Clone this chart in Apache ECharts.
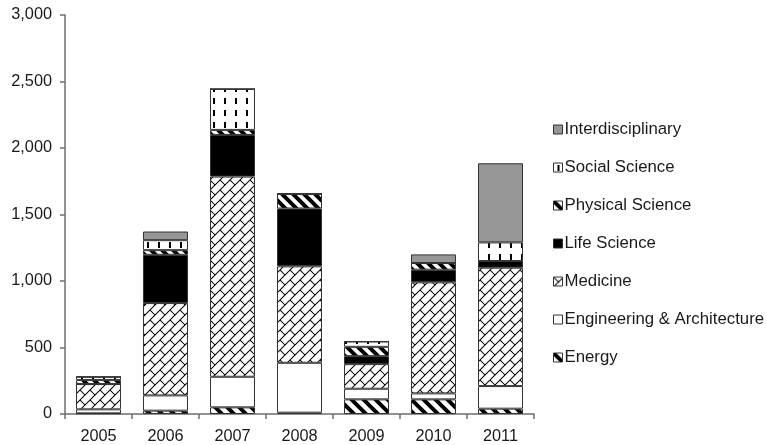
<!DOCTYPE html>
<html>
<head>
<meta charset="utf-8">
<script src="https://cdn.jsdelivr.net/npm/echarts@6/dist/echarts.min.js"></script>
<style>
  html, body { margin: 0; padding: 0; background: #fff; }
  #chart { width: 767px; height: 445px; }
</style>
</head>
<body>
<div id="chart"></div>
<script>
// Funding by field, stacked per year (bottom to top: Energy ... Interdisciplinary)
const years = ['2005', '2006', '2007', '2008', '2009', '2010', '2011'];
const energy           = [5,   25,   50,   10,  110, 110,  40];
const engineering      = [30,  115,  230,  375, 80,  45,   170];
const medicine         = [190, 694,  1505, 725, 185, 835,  890];
const lifeScience      = [0,   363,  313,  435, 60,  95,   50];
const physicalScience  = [30,  35,   38,   110, 70,  50,   0];
const socialScience    = [25,  75,   308,  0,   40,  0,    140];
const interdisciplinary= [0,   65,   0,    0,   0,   65,   595];
const yTicks = { min: 0, max: 3000, step: 500 };

// ---- fill patterns drawn into small tiles ----
function tile(w, h, draw) {
  const c = document.createElement('canvas');
  c.width = w; c.height = h;
  const ctx = c.getContext('2d');
  ctx.fillStyle = '#fff';
  ctx.fillRect(0, 0, w, h);
  draw(ctx, w, h);
  return { image: c, repeat: 'repeat' };
}

// wide "\" stripes
function stripes(period, thick) {
  return tile(period, period, (ctx, w, h) => {
    ctx.strokeStyle = '#000';
    ctx.lineWidth = thick;
    ctx.beginPath();
    for (let k = -2; k <= 2; k++) {
      ctx.moveTo(k * w - w, -h);
      ctx.lineTo(k * w + 2 * w, 2 * h);
    }
    ctx.stroke();
  });
}

// diagonal brick (bricks run along "/")
function bricks() {
  const T = 10;
  const hgt = T / Math.SQRT2;
  return tile(T, T, (ctx) => {
    ctx.save();
    ctx.rotate(-Math.PI / 4);
    ctx.strokeStyle = '#000';
    ctx.lineWidth = 1;
    ctx.beginPath();
    for (let r = -8; r <= 8; r++) {
      const y = r * hgt;
      ctx.moveTo(-80, y); ctx.lineTo(80, y);
      const off = (Math.abs(r) % 2 === 0) ? 0 : hgt;
      for (let c = -8; c <= 8; c++) {
        const x = c * 2 * hgt + off;
        ctx.moveTo(x, y); ctx.lineTo(x, y + hgt);
      }
    }
    ctx.stroke();
    ctx.restore();
  });
}

// short vertical dashes
function dashes() {
  return tile(11, 12, (ctx) => {
    ctx.fillStyle = '#000';
    ctx.fillRect(4, 2, 2, 6);
  });
}

const fills = {
  'Energy': stripes(12, 4),
  'Engineering & Architecture': '#ffffff',
  'Medicine': bricks(),
  'Life Science': '#000000',
  'Physical Science': stripes(11, 4),
  'Social Science': dashes(),
  'Interdisciplinary': '#969696'
};

const seriesData = [
  ['Energy', energy],
  ['Engineering & Architecture', engineering],
  ['Medicine', medicine],
  ['Life Science', lifeScience],
  ['Physical Science', physicalScience],
  ['Social Science', socialScience],
  ['Interdisciplinary', interdisciplinary]
];

const chart = echarts.init(document.getElementById('chart'), null, { renderer: 'canvas' });

chart.setOption({
  backgroundColor: '#fff',
  animation: false,
  textStyle: { fontFamily: 'Liberation Sans, Arial, sans-serif' },
  grid: { left: 65, right: 233, top: 15, bottom: 30.5 },
  legend: {
    orient: 'vertical',
    left: 548,
    top: 115,
    itemWidth: 9,
    itemHeight: 9,
    itemGap: 19,
    icon: 'rect',
    data: seriesData.map(s => s[0]).reverse(),
    textStyle: { fontSize: 16.8, color: '#1a1a1a', padding: [0, 0, 0, -3], lineHeight: 19 },
    itemStyle: { borderColor: '#333', borderWidth: 1 }
  },
  xAxis: {
    type: 'category',
    data: years,
    axisLine: { lineStyle: { color: '#6e6e6e', width: 1.5 } },
    axisTick: { show: true, length: 5, lineStyle: { color: '#6e6e6e', width: 1.5 } },
    axisLabel: { fontSize: 16.3, color: '#1a1a1a', margin: 15 }
  },
  yAxis: {
    type: 'value',
    min: yTicks.min,
    max: yTicks.max,
    interval: yTicks.step,
    splitLine: { show: false },
    axisLine: { show: true, lineStyle: { color: '#6e6e6e', width: 1.5 } },
    axisTick: { show: true, length: 5, lineStyle: { color: '#6e6e6e', width: 1.5 } },
    axisLabel: {
      fontSize: 16.3, color: '#1a1a1a', margin: 13,
      formatter: v => v.toLocaleString('en-US')
    }
  },
  series: seriesData.map(([name, vals]) => ({
    name,
    type: 'bar',
    stack: 'total',
    barWidth: 45,
    data: vals,
    itemStyle: { color: fills[name], borderColor: '#333', borderWidth: 1 }
  }))
});
</script>
</body>
</html>
